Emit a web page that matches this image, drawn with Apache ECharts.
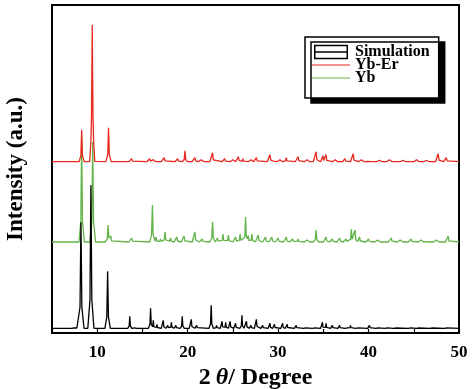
<!DOCTYPE html>
<html><head><meta charset="utf-8">
<script src="https://cdn.jsdelivr.net/npm/echarts@6/dist/echarts.min.js"></script>
<style>html,body{margin:0;padding:0;background:#fff}#c{width:474px;height:389px}</style>
</head><body><div id="c"></div>
<script>
// x range (2θ, degrees)
const xRange = [5, 50];
const xTicks = [10, 20, 30, 40, 50];
const seriesNames = ['Simulation', 'Yb-Er', 'Yb'];
// vertical stacking offsets (arbitrary intensity units)
const simOffset = 4.7, ybErOffset = 171.3, ybOffset = 91;
// peaks: [2θ, height, half-base-width]
const simPeaks = [
  [7.6,1.5,0.5],[8.2,106,0.34],[9.3,143,0.34],[11.15,57,0.3],[13.6,12,0.22],[14.2,2,0.2],[15.9,20,0.24],[16.2,8,0.2],
  [16.6,4,0.2],[17.3,8,0.22],[17.8,3,0.2],[18.2,6,0.22],[18.7,3,0.2],[19.4,12,0.22],[20.4,9,0.22],[21.0,3,0.2],
  [22.6,23,0.24],[23.2,3,0.2],[23.8,7,0.2],[24.2,6,0.2],[24.7,7,0.2],[25.3,5,0.2],[26.0,13,0.22],
  [26.5,7,0.2],[27.0,3,0.2],[27.6,9,0.22],[28.3,3,0.2],[29.1,5,0.2],[29.6,4,0.2],[30.5,5,0.2],[31.0,4,0.2],
  [32.0,3,0.2],[33.0,2,0.2],[34.0,2,0.2],[34.9,6,0.2],[35.3,5,0.2],[36.0,3,0.2],[36.8,3,0.2],
  [37.6,2,0.2],[38.0,3,0.2],[38.8,2,0.2],[40.1,3,0.2],[41.0,2,0.2],[42.0,2,0.2],[43.0,1.5,0.2],
  [44.6,2,0.2],[45.5,1.5,0.2],[47.0,1.5,0.2],[48.6,2,0.2]
];
const ybErPeaks = [
  [8.28,32,0.28],[9.36,14,0.2],[9.45,132,0.28],[9.54,18,0.2],[11.25,34,0.3],[13.8,3,0.28],[15.8,3,0.3],
  [16.2,2,0.25],[17.4,4,0.3],[18.9,3,0.3],[19.7,11,0.28],[20.8,4,0.3],[21.5,2,0.3],[22.75,9,0.3],
  [24.1,3,0.3],[25.0,2,0.3],[25.6,5,0.3],[26.1,3,0.3],[27.0,2,0.3],[27.6,4,0.3],[29.1,7,0.3],[29.4,3,0.25],
  [30.2,2,0.3],[30.9,4,0.3],[32.2,5,0.3],[33.2,2,0.3],[34.2,10,0.3],[34.95,6,0.25],[35.3,7,0.25],
  [36.3,2,0.3],[37.4,3,0.3],[38.3,8,0.3],[39.2,2,0.3],[40.0,2,0.3],[41.2,1.5,0.3],[42.3,2,0.3],
  [43.8,1.5,0.3],[45.3,2,0.3],[46.4,1.5,0.3],[47.7,8,0.3],[48.6,4,0.3]
];
const ybPeaks = [
  [8.28,104,0.3],[9.5,100,0.32],[11.2,17,0.3],[11.5,6,0.25],[13.8,4,0.3],[16.1,37,0.3],[16.5,5,0.25],
  [17.0,3,0.3],[17.5,10,0.3],[18.1,4,0.3],[18.8,5,0.3],[19.6,6,0.3],[20.8,10,0.3],[21.6,3,0.3],
  [22.75,20,0.3],[23.3,4,0.25],[23.9,8,0.3],[24.5,7,0.3],[25.3,5,0.3],[25.8,8,0.3],[26.4,25,0.28],
  [26.7,8,0.25],[27.1,8,0.3],[27.8,7,0.3],[28.6,5,0.3],[29.3,5,0.3],[30.0,4,0.3],[30.9,5,0.3],
  [31.6,3,0.3],[32.2,3,0.3],[33.2,2,0.3],[34.2,12,0.3],[35.3,5,0.3],[36.0,3,0.3],[36.8,4,0.3],
  [37.5,3,0.3],[38.1,13,0.28],[38.5,12,0.28],[39.0,5,0.3],[40.0,3,0.3],[41.0,2,0.3],[42.5,4,0.3],
  [43.5,2,0.3],[44.7,3,0.3],[45.8,2,0.3],[46.5,2,0.3],[47.5,2,0.3],[48.8,6,0.3]
];

function kernel(dx, w) {
  const a = Math.abs(dx) / w;
  if (a >= 1) return 0;
  if (a < 0.3) return 1 - (a / 0.3) * 0.8;
  return 0.2 * (1 - a) / 0.7;
}
function profile(peaks, offset) {
  const xs = new Set([xRange[0], xRange[1]]);
  peaks.forEach(([p, h, w]) => { [-1, -0.3, 0, 0.3, 1].forEach(f => xs.add(+(p + f * w).toFixed(4))); });
  const arr = [...xs].filter(x => x >= xRange[0] && x <= xRange[1]).sort((a, b) => a - b);
  return arr.map(x => {
    let y = offset;
    peaks.forEach(([p, h, w]) => { y += h * kernel(x - p, w); });
    return [x, y];
  });
}

const chart = echarts.init(document.getElementById('c'));
const serif = '"Liberation Serif","DejaVu Serif",serif';
chart.setOption({
  animation: false,
  grid: { left: 52, right: 15, top: 5, bottom: 56, outerBoundsMode: 'none', containLabel: false,
    show: true, borderColor: '#000', borderWidth: 2, backgroundColor: 'transparent' },
  legend: {
    orient: 'vertical', left: 305, top: 37,
    data: [
      { name: 'Simulation', icon: 'path://M0,0L40,0L40,16L0,16Z M0,8L40,8', itemStyle: { color: 'transparent', borderColor: '#000', borderWidth: 1.5 } },
      { name: 'Yb-Er', icon: 'path://M0,0L40,0L40,1.2L0,1.2Z' },
      { name: 'Yb', icon: 'path://M0,0L40,0L40,1.2L0,1.2Z' }
    ],
    itemWidth: 38, itemHeight: 13, itemGap: -3,
    padding: [7, 9, 12, 7],
    backgroundColor: '#fff', borderColor: '#000', borderWidth: 1.5,
    shadowColor: '#000', shadowBlur: 0, shadowOffsetX: 6, shadowOffsetY: 5,
    textStyle: { fontFamily: serif, fontWeight: 'bold', fontSize: 16, color: '#000' }
  },
  xAxis: {
    type: 'value', min: xRange[0], max: xRange[1], interval: 5,
    axisLine: { show: true, lineStyle: { color: '#000', width: 2 } },
    axisTick: { show: true, inside: true, length: 4, lineStyle: { color: '#000', width: 1.2 } },
    splitLine: { show: false },
    axisLabel: { margin: 11, fontFamily: serif, fontWeight: 'bold', fontSize: 17, color: '#000',
      formatter: v => xTicks.includes(v) ? String(v) : '' },
    name: '{a|2}{b|θ}{a|/ Degree}', nameLocation: 'middle', nameGap: 27,
    nameTextStyle: { rich: {
      a: { fontFamily: serif, fontWeight: 'bold', fontSize: 24, color: '#000' },
      b: { fontFamily: serif, fontWeight: 'bold', fontStyle: 'italic', fontSize: 24, color: '#000', padding: [0, 0, 0, 5] }
    } }
  },
  yAxis: {
    type: 'value', min: 0, max: 328,
    axisLine: { show: true, lineStyle: { color: '#000', width: 2 } },
    axisTick: { show: false }, axisLabel: { show: false }, splitLine: { show: false },
    name: 'Intensity (a.u.)', nameLocation: 'middle', nameGap: 24,
    nameTextStyle: { fontFamily: serif, fontWeight: 'bold', fontSize: 23, color: '#000' }
  },
  series: [
    { name: 'Yb', type: 'line', data: profile(ybPeaks, ybOffset), showSymbol: false, lineStyle: { color: '#62b44a', width: 1.3 }, itemStyle: { color: '#62b44a' }, z: 2 },
    { name: 'Simulation', type: 'line', data: profile(simPeaks, simOffset), showSymbol: false, lineStyle: { color: '#000', width: 1.3 }, itemStyle: { color: '#000' }, z: 3 },
    { name: 'Yb-Er', type: 'line', data: profile(ybErPeaks, ybErOffset), showSymbol: false, lineStyle: { color: '#e8281e', width: 1.3 }, itemStyle: { color: '#e8281e' }, z: 4 }
  ]
});
</script></body></html>
